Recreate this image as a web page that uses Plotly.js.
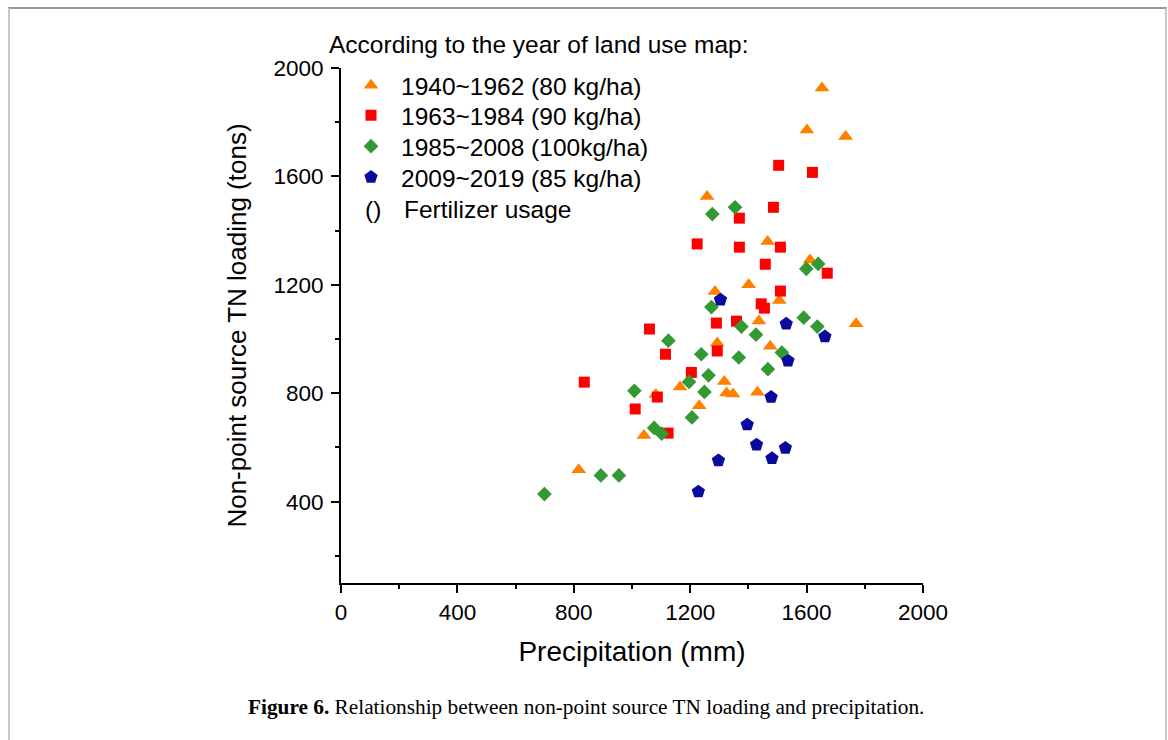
<!DOCTYPE html>
<html>
<head>
<meta charset="utf-8">
<script src="https://cdn.plot.ly/plotly-3.0.1.min.js"></script>
<style>
  html, body { margin: 0; padding: 0; background: #ffffff; }
  #frame { position: absolute; left: 8px; top: 7px; width: 1155px; height: 740px;
           border-top: 2px solid #9a9a9a; border-left: 2px solid #c8c8c8; border-right: 2px solid #c8c8c8; }
  #chart { position: absolute; left: 0; top: 0; width: 1168px; height: 740px; }
</style>
</head>
<body>
<div id="frame"></div>
<div id="chart"></div>
<script>
// Series names
const seriesNames = ["1940~1962 (80 kg/ha)", "1963~1984 (90 kg/ha)", "1985~2008 (100kg/ha)", "2009~2019 (85 kg/ha)"];

// 1940~1962 (orange triangles)
const precip1940 = [1653, 1601, 1734, 1258, 1466, 1612, 1401, 1285, 1506, 1436, 1770, 1293, 1475, 1317, 1165, 1082, 1325, 1347, 1431, 1231, 1041, 817];
const tn1940     = [1926, 1771, 1747, 1526, 1360, 1292, 1200, 1175, 1142, 1067, 1056, 985, 973, 843, 823, 795, 801, 797, 804, 754, 644, 518];

// 1963~1984 (red squares)
const precip1963 = [1504, 1620, 1486, 1369, 1224, 1369, 1510, 1458, 1671, 1510, 1444, 1455, 1359, 1290, 1060, 1293, 1115, 1204, 836, 1087, 1011, 1124];
const tn1963     = [1641, 1615, 1486, 1446, 1351, 1339, 1339, 1276, 1243, 1177, 1130, 1114, 1066, 1059, 1037, 956, 944, 877, 841, 786, 742, 653];

// 1985~2008 (green diamonds)
const precip1985 = [1354, 1276, 1640, 1599, 1273, 1590, 1637, 1376, 1426, 1125, 1238, 1367, 1515, 1467, 1263, 1196, 1008, 1249, 1206, 1076, 1102, 893, 955, 699];
const tn1985     = [1486, 1461, 1277, 1259, 1118, 1079, 1046, 1046, 1016, 994, 944, 932, 950, 889, 866, 842, 809, 805, 711, 672, 651, 497, 497, 428];

// 2009~2019 (blue pentagons)
const precip2009 = [1304, 1530, 1663, 1536, 1478, 1396, 1428, 1527, 1481, 1297, 1228];
const tn2009     = [1145, 1056, 1009, 920, 786, 684, 610, 598, 560, 552, 437];

const xTicks = [0, 400, 800, 1200, 1600, 2000];
const yTicks = [400, 800, 1200, 1600, 2000];

const SANS = "Liberation Sans, Arial, sans-serif";
const SERIF = "Liberation Serif, Times New Roman, serif";

function mk(x, y, name, symbol, color, size, legendId) {
  return {
    type: "scatter", mode: "markers", x: x, y: y, name: name,
    legend: legendId, showlegend: true,
    marker: { symbol: symbol, color: color, size: size, line: { width: 0 } },
    hoverinfo: "x+y"
  };
}

const traces = [
  mk(precip1940, tn1940, seriesNames[0], "triangle-up", "#ff8000", 13, "legend"),
  mk(precip1963, tn1963, seriesNames[1], "square", "#ff0000", 11, "legend2"),
  mk(precip1985, tn1985, seriesNames[2], "diamond", "#339933", 11.3, "legend3"),
  mk(precip2009, tn2009, seriesNames[3], "pentagon", "#0a0a9e", 14, "legend4")
];

function leg(y) {
  return {
    x: 0.0, xanchor: "left", y: y, yanchor: "middle",
    bgcolor: "rgba(0,0,0,0)", borderwidth: 0, itemwidth: 50,
    font: { family: SANS, size: 24.5, color: "#000" }
  };
}

const axisCommon = {
  showline: true, linecolor: "#000", linewidth: 2, mirror: false,
  ticks: "outside", ticklen: 8, tickwidth: 2, tickcolor: "#000",
  showgrid: false, zeroline: false,
  tickfont: { family: SANS, size: 22.5, color: "#000" },
  minor: { ticks: "outside", ticklen: 4, tickwidth: 2, tickcolor: "#000", showgrid: false }
};

const layout = {
  width: 1168, height: 740,
  paper_bgcolor: "rgba(0,0,0,0)", plot_bgcolor: "rgba(0,0,0,0)",
  margin: { l: 341, r: 245, t: 68, b: 157, pad: 0 },
  showlegend: true,
  xaxis: Object.assign({}, axisCommon, {
    range: [0, 2000], tickvals: xTicks, ticktext: xTicks.map(String),
    minor: Object.assign({}, axisCommon.minor, { dtick: 200, tick0: 0 }),
    title: { text: "Precipitation (mm)", font: { family: SANS, size: 28, color: "#000" }, standoff: 17 }
  }),
  yaxis: Object.assign({}, axisCommon, {
    range: [100, 2000], tickvals: yTicks, ticktext: yTicks.map(String),
    ticklabelstandoff: 3,
    minor: Object.assign({}, axisCommon.minor, { dtick: 200, tick0: 0 }),
    title: { text: "Non-point source TN loading (tons)", font: { family: SANS, size: 26, color: "#000" }, standoff: 19 }
  }),
  legend: leg(0.9664),
  legend2: leg(0.9081),
  legend3: leg(0.8480),
  legend4: leg(0.7880),
  annotations: [
    { xref: "paper", yref: "paper", x: -0.0235, y: 1.0452, xanchor: "left", yanchor: "middle",
      text: "According to the year of land use map:", showarrow: false,
      font: { family: SANS, size: 24.5, color: "#000" } },
    { xref: "paper", yref: "paper", x: 0.055, y: 0.7255, xanchor: "center", yanchor: "middle",
      text: "()", showarrow: false, font: { family: SANS, size: 24.5, color: "#000" } },
    { xref: "paper", yref: "paper", x: 0.1048, y: 0.7255, xanchor: "left", yanchor: "middle",
      text: "Fertilizer usage", showarrow: false, font: { family: SANS, size: 24.5, color: "#000" } },
    { xref: "paper", yref: "paper", x: 0.421, y: -0.2408, xanchor: "center", yanchor: "middle",
      text: "<b>Figure 6.</b> Relationship between non-point source TN loading and precipitation.",
      showarrow: false, font: { family: SERIF, size: 21.3, color: "#000" } }
  ]
};

Plotly.newPlot("chart", traces, layout, { staticPlot: true, displayModeBar: false });
</script>
</body>
</html>
